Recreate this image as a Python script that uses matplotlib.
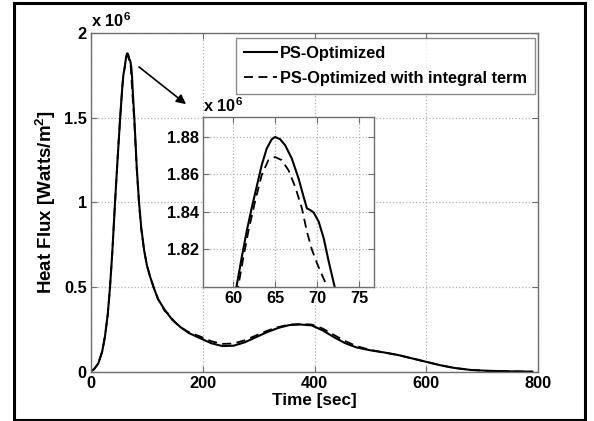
import matplotlib.pyplot as plt
from matplotlib.patches import Rectangle

plt.rcParams['font.family'] = ['Liberation Sans', 'DejaVu Sans']
plt.rcParams['font.weight'] = 'bold'
plt.rcParams['mathtext.fontset'] = 'custom'
plt.rcParams['mathtext.rm'] = 'Liberation Sans:bold'
plt.rcParams['mathtext.bf'] = 'Liberation Sans:bold'

# heat flux histories, in units of 1e6 W/m^2
time_opt = [0, 5, 13, 20, 25, 30, 34, 38, 43, 48, 52, 56, 58,
            60.4, 61.0, 61.6, 62.2, 62.8, 63.4, 64.0, 64.6, 65.0, 65.6, 66.2, 67.0,
            67.8, 68.4, 68.8, 69.2, 69.6, 70.2, 70.8, 71.4, 72.1, 73.5, 75, 77.5,
            82, 86, 90, 95, 100, 106, 112, 120, 132, 145, 160, 175, 195, 215, 235,
            255, 275, 295, 315, 335, 355, 375, 395, 415, 435, 455, 475, 500, 525,
            550, 575, 600, 625, 650, 680, 710, 750, 790]
flux_opt = [0.005, 0.015, 0.05, 0.12, 0.21, 0.34, 0.50, 0.70, 1.00, 1.28, 1.49, 1.68, 1.755,
            1.800, 1.8151, 1.8293, 1.8418, 1.8533, 1.8649, 1.8738, 1.8788, 1.880, 1.8788, 1.8756, 1.8684,
            1.8578, 1.848, 1.8418, 1.8409, 1.8396, 1.8347, 1.8258, 1.8133, 1.800, 1.74, 1.64, 1.50,
            1.20, 1.00, 0.85, 0.72, 0.63, 0.56, 0.50, 0.43, 0.366, 0.31, 0.265, 0.23, 0.20, 0.17, 0.153,
            0.155, 0.175, 0.205, 0.235, 0.26, 0.277, 0.28, 0.275, 0.245, 0.205, 0.17, 0.145, 0.128, 0.115,
            0.10, 0.08, 0.06, 0.04, 0.024, 0.012, 0.007, 0.004, 0.002]

time_int = [0, 5, 13, 20, 25, 30, 34, 38, 43, 48, 52, 56, 58,
            60.6, 61.2, 61.8, 62.6, 63.4, 64.2, 65.0, 65.8, 66.6, 67.4, 68.2,
            68.8, 69.4, 70.0, 70.6, 71.2, 73.0, 75, 77.5,
            82, 86, 90, 95, 100, 106, 112, 120, 132, 140, 145, 150, 160, 175, 195, 215, 235,
            255, 275, 295, 315, 335, 355, 375, 395, 415, 435, 455, 475, 500, 525,
            550, 575, 600, 625, 650, 680, 710, 750, 790]
flux_int = [0.005, 0.015, 0.05, 0.12, 0.21, 0.34, 0.50, 0.70, 1.00, 1.28, 1.49, 1.68, 1.75,
            1.800, 1.8151, 1.8293, 1.8453, 1.8596, 1.8676, 1.8693, 1.8676, 1.8622, 1.8533, 1.8418,
            1.8293, 1.8196, 1.8124, 1.8062, 1.800, 1.70, 1.60, 1.48,
            1.19, 0.99, 0.84, 0.72, 0.63, 0.56, 0.50, 0.43, 0.36, 0.34, 0.315, 0.295, 0.265, 0.235, 0.21, 0.182, 0.166,
            0.168, 0.187, 0.215, 0.243, 0.265, 0.28, 0.283, 0.28, 0.256, 0.218, 0.182, 0.153, 0.13, 0.115,
            0.10, 0.08, 0.06, 0.04, 0.024, 0.012, 0.007, 0.004, 0.002]

labels = ['PS-Optimized', 'PS-Optimized with integral term']
main_xticks = [0, 200, 400, 600, 800]
main_yticks = [0, 0.5, 1, 1.5, 2]
main_yticklabels = ['0', '0.5', '1', '1.5', '2']
zoom_xticks = [60, 65, 70, 75]
zoom_yticks = [1.82, 1.84, 1.86, 1.88]

W, H = 594, 421
fig = plt.figure(figsize=(W / 100, H / 100), dpi=100)

# black frame around the whole figure
fig.patches.append(Rectangle((14 / W, 1 - 420 / H), 571 / W, 417 / H, transform=fig.transFigure,
                             fill=False, edgecolor='black', linewidth=2.2))

spine_col = '#6e6e6e'
grid_kw = dict(color='#b0b0b0', linestyle=':', linewidth=0.9)
tick_size = 11.8


def style_axes(a):
    for s in a.spines.values():
        s.set_color(spine_col)
        s.set_linewidth(1.0)
    a.tick_params(direction='in', length=4, width=0.8, color=spine_col, top=True, right=True,
                  labelsize=tick_size, pad=3)
    for lab in a.get_xticklabels() + a.get_yticklabels():
        lab.set_fontweight('bold')
    a.grid(True, **grid_kw)


ax = fig.add_axes([91 / W, 1 - 372 / H, 447 / W, 339 / H])
ax.plot(time_opt, flux_opt, color='black', linewidth=1.5, label=labels[0])
ax.plot(time_int, flux_int, color='black', linewidth=1.3, linestyle=(0, (5, 3)), label=labels[1])
ax.set_xlim(0, 800)
ax.set_ylim(0, 2)
ax.set_xticks(main_xticks)
ax.set_yticks(main_yticks)
ax.set_yticklabels(main_yticklabels)
style_axes(ax)
ax.set_xlabel('Time [sec]', fontsize=12.3, fontweight='bold', labelpad=1)
ax.set_ylabel('Heat Flux [Watts/m$^2$]', fontsize=13.5, fontweight='bold', labelpad=4)
ax.text(0.0, 1.01, r'x 10$^6$', transform=ax.transAxes, fontsize=tick_size, fontweight='bold',
        ha='left', va='bottom')

leg = ax.legend(loc='upper right', bbox_to_anchor=(535 / W, 1 - 38 / H), bbox_transform=fig.transFigure,
                borderaxespad=0, fancybox=False, frameon=True, handlelength=2.0, handletextpad=0.2,
                prop={'weight': 'bold', 'size': tick_size}, borderpad=0.5, labelspacing=0.6)
leg.get_frame().set_edgecolor(spine_col)
leg.get_frame().set_linewidth(1.0)

# arrow from the peak to the zoomed view
ax.annotate('', xy=(174, 1.57), xytext=(82, 1.81),
            arrowprops=dict(arrowstyle='-|>', color='black', lw=1.2, mutation_scale=14))

# zoom on the peak
axz = fig.add_axes([203 / W, 1 - 286.5 / H, 171 / W, 169.5 / H])
axz.plot(time_opt, flux_opt, color='black', linewidth=1.5)
axz.plot(time_int, flux_int, color='black', linewidth=1.3, linestyle=(0, (5, 3)))
axz.set_xlim(56.4, 76.8)
axz.set_ylim(1.80, 1.8907)
axz.set_xticks(zoom_xticks)
axz.set_yticks(zoom_yticks)
style_axes(axz)
axz.text(0.0, 1.01, r'x 10$^6$', transform=axz.transAxes, fontsize=tick_size, fontweight='bold',
         ha='left', va='bottom')

fig.savefig('out.png', dpi=100)
